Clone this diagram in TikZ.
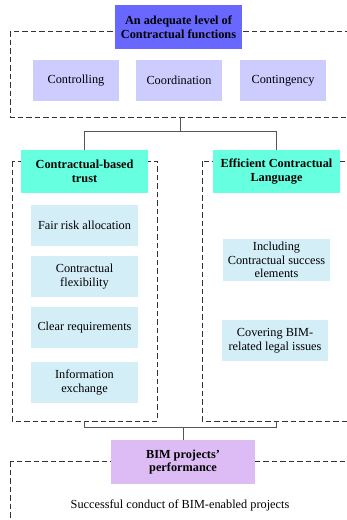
\documentclass[tikz,border=0pt]{standalone}
\usepackage{fontspec}
\setmainfont{Liberation Serif}
\definecolor{topblue}{HTML}{6868FF}
\definecolor{lav}{HTML}{CCCCFF}
\definecolor{teal}{HTML}{66FFE0}
\definecolor{lblue}{HTML}{D4EEF8}
\definecolor{bimlav}{HTML}{DDBBF5}
\definecolor{connc}{HTML}{555555}
\tikzset{
  box/.style={inner sep=0pt, align=center, font=\fontsize{12.3}{13.6}\selectfont},
  hdr/.style={box, font=\fontsize{12.3}{13.6}\selectfont\bfseries},
  dashbox/.style={draw=black!80, dash pattern=on 5.5pt off 3pt, line width=0.7pt},
  conn/.style={draw=connc, line width=0.7pt}
}
\begin{document}
\begin{tikzpicture}[x=1pt,y=-1pt]
\useasboundingbox (0,0) rectangle (347,520);
\clip (0,0) rectangle (347,520);
\fill[white] (0,0) rectangle (347,520);
% dashed frames
\draw[dashbox] (10,31) rectangle (362,117);
\draw[dashbox] (12,161) rectangle (157,421);
\draw[dashbox] (202,161) rectangle (362,421);
\draw[dashbox] (10,461) rectangle (362,540);
% header boxes
\node[hdr, fill=topblue, minimum width=127pt, minimum height=44pt] (top) at (178.5,27) {An adequate level of\\Contractual functions};
\node[box, fill=lav, minimum width=86pt, minimum height=41pt] (ctrl) at (76,80.5) {Controlling};
\node[box, fill=lav, minimum width=86pt, minimum height=41pt] (coord) at (179,80.5) {Coordination};
\node[box, fill=lav, minimum width=86pt, minimum height=41pt] (cont) at (283,80.5) {Contingency};
\node[hdr, fill=teal, minimum width=127pt, minimum height=43pt] (trust) at (84.5,171.5) {Contractual-based\\trust};
\node[hdr, fill=teal, minimum width=127pt, minimum height=43pt] (ecl) at (276.5,171.5) {Efficient Contractual\\Language};
\node[box, fill=lblue, minimum width=107pt, minimum height=41pt] (fair) at (84.5,225.5) {Fair risk allocation};
\node[box, fill=lblue, minimum width=107pt, minimum height=41pt] (flex) at (84.5,276.5) {Contractual\\flexibility};
\node[box, fill=lblue, minimum width=107pt, minimum height=41pt] (clear) at (84.5,327.5) {Clear requirements};
\node[box, fill=lblue, minimum width=107pt, minimum height=41pt] (info) at (84.5,382.5) {Information\\exchange};
\node[box, fill=lblue, minimum width=107pt, minimum height=42pt] (incl) at (276.5,260) {Including\\Contractual success\\elements};
\node[box, fill=lblue, minimum width=106pt, minimum height=41pt] (cov) at (275,340.5) {Covering BIM-\\related legal issues};
\node[hdr, fill=bimlav, minimum width=144pt, minimum height=44pt] (bim) at (183,462) {BIM projects'\\performance};
\node[box] (succ) at (180,505) {Successful conduct of BIM-enabled projects};
% connectors
\coordinate (tb) at (180,117);
\coordinate (j1) at (180,131);
\draw[conn] (tb) -- (j1);
\draw[conn] (j1) -| (trust.north);
\draw[conn] (j1) -| (ecl.north);
\coordinate (lb) at (84.5,421);
\coordinate (rb) at (276.5,421);
\coordinate (j2) at (183,427);
\draw[conn] (lb) |- (j2);
\draw[conn] (rb) |- (j2);
\draw[conn] (j2) -- (bim.north);
\end{tikzpicture}
\end{document}
